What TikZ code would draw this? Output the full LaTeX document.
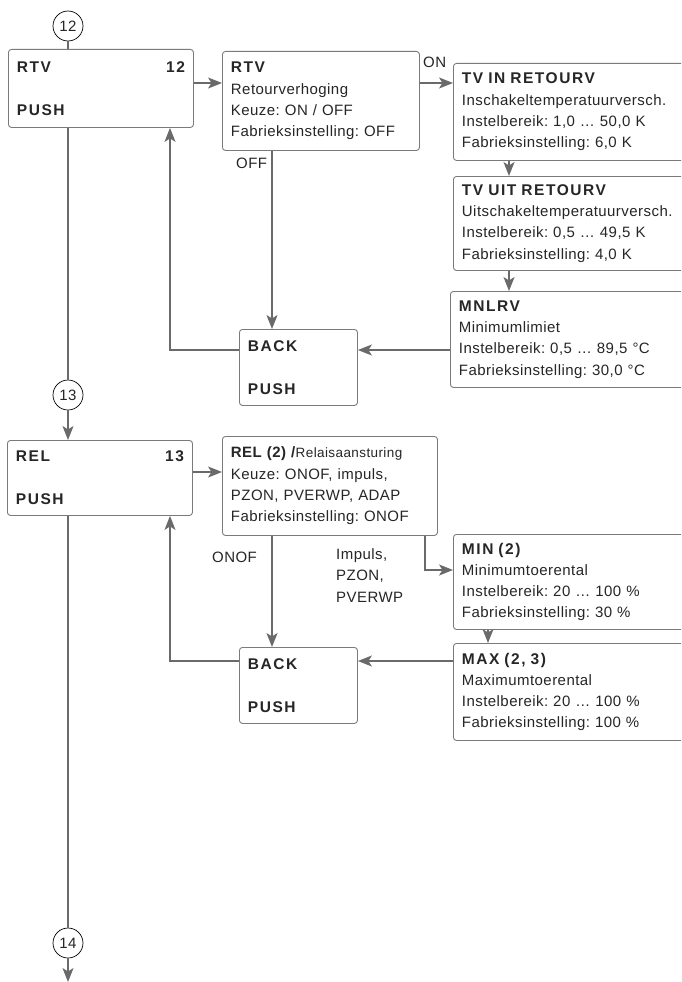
\documentclass[tikz,border=0pt]{standalone}
\usepackage{fontspec}
\setmainfont[LetterSpace=3]{Liberation Sans}
\newfontfamily\ttlfont[LetterSpace=10]{Liberation Sans}
\usetikzlibrary{arrows.meta}
\definecolor{txt}{HTML}{262626}
\definecolor{ln}{HTML}{6A6A6A}
\definecolor{bx}{HTML}{7A7A7A}
\newcommand{\fs}{\fontsize{15}{21.3}\selectfont\frenchspacing}
\newcommand{\ttl}[1]{{\ttlfont\bfseries\fontsize{15.5}{21.3}\selectfont #1}}
\begin{document}
\begin{tikzpicture}[x=1pt,y=-1pt,
  box/.style={draw=bx, rounded corners=3pt, line width=0.9pt, inner xsep=8.5pt, inner ysep=0pt,
    align=left, anchor=north west, font=\fs, text=txt},
  circ/.style={draw=black, circle, line width=0.7pt, minimum size=30pt, inner sep=0pt, font=\fs, text=txt},
  conn/.style={draw=ln, line width=1.3pt},
  arr/.style={conn, -{Stealth[length=14pt, width=11pt, inset=3.5pt]}},
  lbl/.style={font=\fs, text=txt, inner sep=0pt, align=left}
]
\clip (0,0) rectangle (681,982);
\fill[white] (0,0) rectangle (681,982);

% level coordinates
\coordinate (y83) at (0,83);
\coordinate (y350) at (0,350);
\coordinate (y472) at (0,472);
\coordinate (y570) at (0,570);
\coordinate (y661) at (0,661);
\coordinate (x68) at (68,0);
\coordinate (x170) at (170,0);
\coordinate (x272) at (272,0);
\coordinate (x425) at (425,0);
\coordinate (x488) at (488,0);
\coordinate (x509) at (509,0);

% circles
\node[circ] (c12) at (68,26) {12};
\node[circ] (c13) at (68,395) {13};
\node[circ] (c14) at (68,943) {14};
\coordinate (end) at (68,982);

% boxes
\node[box, minimum height=78pt, text width=168pt] (rtv) at (8,49)
  {\ttl{RTV}\hfill\ttl{12}\\[22pt]\ttl{PUSH}};
\node[box, minimum height=99pt, text width=180pt] (rtvd) at (222,51)
  {\ttl{RTV}\\Retourverhoging\\Keuze: ON / OFF\\Fabrieksinstelling: OFF};
\node[box, minimum height=97pt, text width=230pt] (tvin) at (453,63)
  {\ttl{TV IN RETOURV}\\Inschakeltemperatuurversch.\\Instelbereik: 1,0 … 50,0 K\\Fabrieksinstelling: 6,0 K};
\node[box, minimum height=94pt, text width=230pt] (tvuit) at (453,176)
  {\ttl{TV UIT RETOURV}\\Uitschakeltemperatuurversch.\\Instelbereik: 0,5 … 49,5 K\\Fabrieksinstelling: 4,0 K};
\node[box, minimum height=96pt, text width=233pt] (mnlrv) at (450,291)
  {\ttl{MNLRV}\\Minimumlimiet\\Instelbereik: 0,5 … 89,5 °C\\Fabrieksinstelling: 30,0 °C};
\node[box, minimum height=76pt, text width=101pt] (back1) at (239,329)
  {\ttl{BACK}\\[22pt]\ttl{PUSH}};

\node[box, minimum height=75pt, text width=168pt] (rel) at (7,440)
  {\ttl{REL}\hfill\ttl{13}\\[22pt]\ttl{PUSH}};
\node[box, minimum height=99pt, text width=198pt] (reld) at (222,436)
  {\textbf{REL (2) /}{\fontsize{13.5}{21.3}\selectfont Relaisaansturing}\\Keuze: ONOF, impuls,\\PZON, PVERWP, ADAP\\Fabrieksinstelling: ONOF};
\node[box, minimum height=95pt, text width=230pt] (min) at (453,534)
  {\ttl{MIN (2)}\\Minimumtoerental\\Instelbereik: 20 … 100 \%\\Fabrieksinstelling: 30 \%};
\node[box, minimum height=97pt, text width=230pt] (max) at (453,643)
  {\ttl{MAX (2, 3)}\\Maximumtoerental\\Instelbereik: 20 … 100 \%\\Fabrieksinstelling: 100 \%};
\node[box, minimum height=76pt, text width=101pt] (back2) at (239,647)
  {\ttl{BACK}\\[22pt]\ttl{PUSH}};

% labels
\node[lbl, anchor=west] (lon) at (423,62) {ON};
\node[lbl, anchor=west] (loff) at (236,163) {OFF};
\node[lbl, anchor=west] (lonof) at (212,557) {ONOF};
\node[lbl, anchor=north west, font=\fontsize{15}{21.5}\selectfont] (limp) at (336,548) {Impuls,\\PZON,\\PVERWP};

% connectors upper part
\draw[conn] (c12.south) -- (rtv.north -| x68);
\draw[arr] (rtv.east |- y83) -- (rtvd.west |- y83);
\draw[arr] (rtvd.east |- y83) -- (tvin.west |- y83);
\draw[arr] (tvin.south -| x509) -- (tvuit.north -| x509);
\draw[arr] (tvuit.south -| x509) -- (mnlrv.north -| x509);
\draw[arr] (mnlrv.west |- y350) -- (back1.east |- y350);
\draw[arr] (rtvd.south -| x272) -- (back1.north -| x272);
\draw[arr] (back1.west |- y350) -| (rtv.south -| x170);
\draw[conn] (rtv.south -| x68) -- (c13.north);
\draw[arr] (c13.south) -- (rel.north -| x68);

% connectors lower part
\draw[arr] (rel.east |- y472) -- (reld.west |- y472);
\draw[arr] (reld.south -| x272) -- (back2.north -| x272);
\draw[arr] (reld.south -| x425) |- (min.west |- y570);
\draw[arr] (min.south -| x488) -- (max.north -| x488);
\draw[arr] (max.west |- y661) -- (back2.east |- y661);
\draw[arr] (back2.west |- y661) -| (rel.south -| x170);
\draw[conn] (rel.south -| x68) -- (c14.north);
\draw[arr] (c14.south) -- (end);
\end{tikzpicture}
\end{document}
